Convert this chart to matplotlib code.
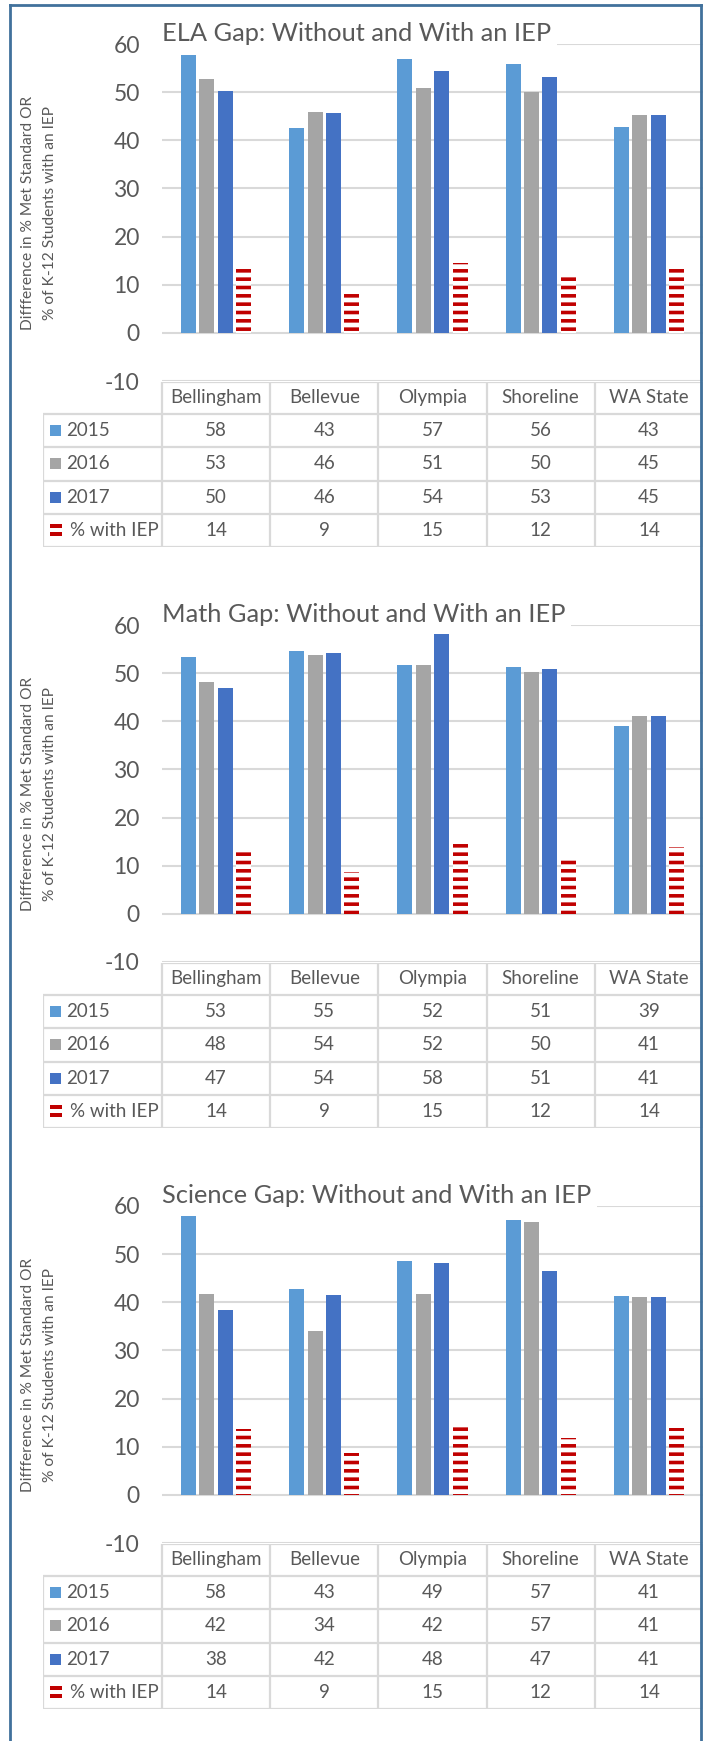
import matplotlib
matplotlib.use("Agg")
import matplotlib.pyplot as plt
from matplotlib.patches import Rectangle
from matplotlib.lines import Line2D

plt.rcParams['font.family'] = ['Lato', 'DejaVu Sans']
plt.rcParams['hatch.linewidth'] = 2.6

# data
categories = ['Bellingham', 'Bellevue', 'Olympia', 'Shoreline', 'WA State']
series_names = ['2015', '2016', '2017', '% with IEP']
titles = ['ELA Gap: Without and With an IEP',
          'Math Gap: Without and With an IEP',
          'Science Gap: Without and With an IEP']

ela_2015 = [57.7, 42.6, 56.8, 55.9, 42.7]
ela_2016 = [52.8, 45.9, 50.9, 50.1, 45.2]
ela_2017 = [50.2, 45.6, 54.3, 53.1, 45.2]
math_2015 = [53.4, 54.7, 51.6, 51.2, 39.1]
math_2016 = [48.2, 53.7, 51.7, 50.3, 41.0]
math_2017 = [47.0, 54.2, 58.2, 50.9, 41.2]
sci_2015 = [57.9, 42.8, 48.6, 57.0, 41.4]
sci_2016 = [41.7, 34.0, 41.8, 56.6, 41.2]
sci_2017 = [38.3, 41.6, 48.1, 46.6, 41.1]
iep_pct = [13.7, 8.6, 14.6, 11.8, 13.8]

yticks = [-10, 0, 10, 20, 30, 40, 50, 60]
ylabel1 = 'Diffference in % Met Standard OR'
ylabel2 = '% of K-12 Students with an IEP'

colors = ['#5B9BD5', '#A5A5A5', '#4472C4']
red = '#C00000'
grid_c = '#D9D9D9'
text_c = '#595959'

W, H = 707, 1741
fig = plt.figure(figsize=(W / 100, H / 100), dpi=100)


def fx(px):
    return px / W


def fy(px):
    return 1 - px / H


charts = [
    (ela_2015, ela_2016, ela_2017),
    (math_2015, math_2016, math_2017),
    (sci_2015, sci_2016, sci_2017),
]

x = list(range(len(categories)))
step = 0.17
bw = 0.14
unit = (703 - 162) / 5.0  # px per category

for ci, (s15, s16, s17) in enumerate(charts):
    dy = ci * 581
    # plot area
    top, bot = 44 + dy, 381 + dy
    ax = fig.add_axes([fx(162), fy(bot), fx(703) - fx(162), (bot - top) / H])
    ax.set_xlim(-0.5, 4.5)
    ax.set_ylim(-10, 60)
    for k, vals in enumerate([s15, s16, s17]):
        ax.bar([i + (k - 1.5) * step for i in x], vals, width=bw,
               color=colors[k], zorder=3)
    ax.bar([i + 1.5 * step for i in x], iep_pct, width=bw, facecolor='white',
           edgecolor=red, hatch='--', linewidth=0, zorder=3)
    ax.set_yticks(yticks)
    ax.set_yticklabels([str(t) for t in yticks], fontsize=16.5, color=text_c)
    ax.tick_params(axis='y', length=0, pad=16)
    ax.set_xticks([])
    ax.grid(axis='y', color=grid_c, linewidth=1.5, zorder=0)
    for sp in ax.spines.values():
        sp.set_visible(False)

    # title with white box hiding the top gridline
    fig.text(fx(162), fy(41 + dy), titles[ci], fontsize=18.3, color=text_c,
             va='baseline', ha='left', zorder=10,
             bbox=dict(facecolor='white', edgecolor='none', pad=4))

    # y label (two lines)
    fig.text(fx(28), fy(213 + dy), ylabel1, rotation=90, fontsize=11.2,
             color=text_c, ha='center', va='center')
    fig.text(fx(50), fy(213 + dy), ylabel2, rotation=90, fontsize=11.2,
             color=text_c, ha='center', va='center')

    # data table
    t_top, t_bot = 382 + dy, 547 + dy
    tx0 = -0.5 - (162 - 43) / unit
    tab = fig.add_axes([fx(43), fy(t_bot), fx(703) - fx(43), (t_bot - t_top) / H])
    tab.set_xlim(tx0, 4.5)
    tab.set_ylim(t_bot - t_top, 0)
    tab.axis('off')
    rows = [0, 31.5, 65, 98.5, 132, 165]
    lk = dict(color=grid_c, linewidth=1.6, solid_capstyle='butt')
    tab.plot([-0.5, 4.5], [rows[0], rows[0]], **lk)
    for r in rows[1:]:
        tab.plot([tx0, 4.5], [r, r], **lk)
    for c in range(6):
        tab.plot([c - 0.5, c - 0.5], [rows[0], rows[-1]], **lk)
    tab.plot([tx0, tx0], [rows[1], rows[-1]], **lk)

    fs = 13.5
    for c, name in enumerate(categories):
        tab.text(c, (rows[0] + rows[1]) / 2, name, ha='center', va='center',
                 fontsize=fs, color=text_c)
    table_vals = [s15, s16, s17, iep_pct]
    for r, vals in enumerate(table_vals):
        yc = (rows[r + 1] + rows[r + 2]) / 2
        for c, v in enumerate(vals):
            tab.text(c, yc, f'{v:.0f}', ha='center', va='center',
                     fontsize=fs, color=text_c)
        kx = tx0 + 7 / unit
        if r < 3:
            tab.add_patch(Rectangle((kx, yc - 5.5), 11 / unit, 11,
                                    facecolor=colors[r], edgecolor='none'))
            tab.text(tx0 + 23 / unit, yc, series_names[r], ha='left',
                     va='center', fontsize=fs, color=text_c)
        else:
            tab.add_patch(Rectangle((kx, yc - 6.5), 12 / unit, 3.6,
                                    facecolor=red, edgecolor='none'))
            tab.add_patch(Rectangle((kx, yc + 1.2), 12 / unit, 3.8,
                                    facecolor=red, edgecolor='none'))
            tab.text(tx0 + 27 / unit, yc, series_names[r], ha='left',
                     va='center', fontsize=fs, color=text_c)

# outer blue frame (open at the bottom)
bc = '#41719C'
fig.add_artist(Line2D([fx(10), fx(701)], [fy(5), fy(5)], color=bc, linewidth=2))
fig.add_artist(Line2D([fx(10), fx(10)], [fy(5), 0], color=bc, linewidth=2))
fig.add_artist(Line2D([fx(701), fx(701)], [fy(5), 0], color=bc, linewidth=2))

fig.savefig('out.png', dpi=100, facecolor='white')
